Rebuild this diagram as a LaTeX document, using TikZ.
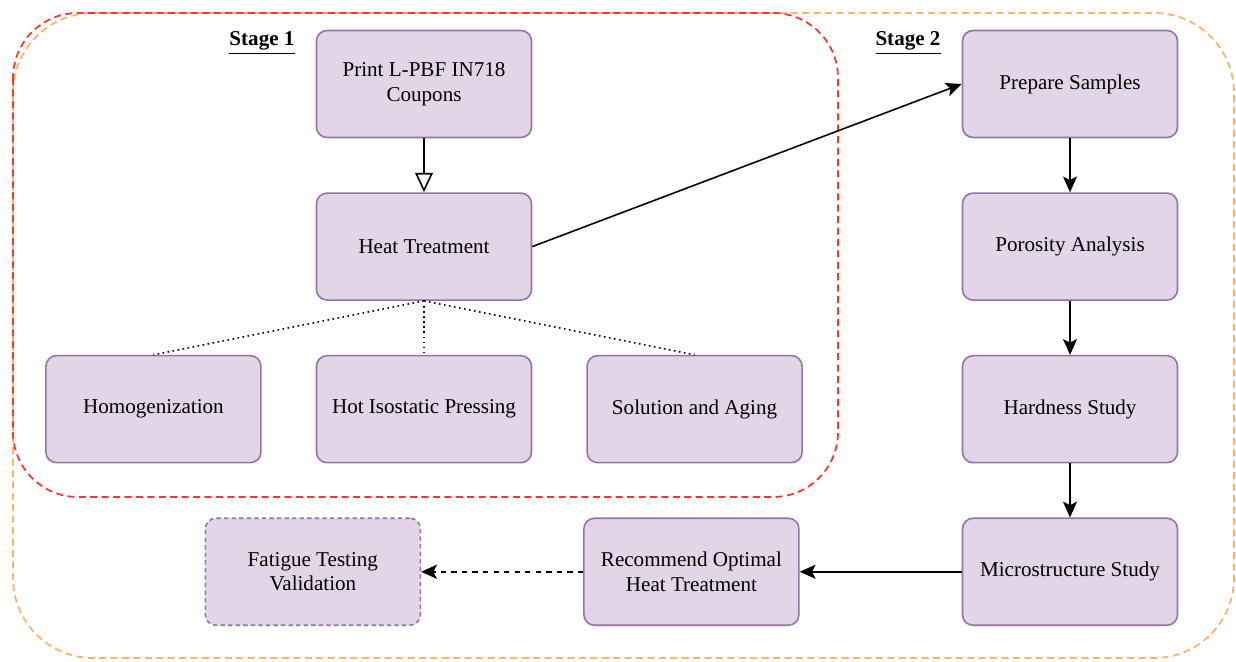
\documentclass[tikz,border=0pt]{standalone}
\usepackage{fontspec}
\setmainfont{Liberation Serif}
\usepackage{xcolor}
\usetikzlibrary{arrows.meta, positioning, shapes}

\definecolor{boxFill}{HTML}{E1D5E7}
\definecolor{boxLine}{HTML}{9673A6}
\definecolor{cadreRouge}{HTML}{FF3333}
\definecolor{cadreOrange}{HTML}{FFB366}

\begin{document}
\begin{tikzpicture}[
			node distance=1.08cm,
			% Styles des boites
			etape/.style={draw=boxLine, fill=boxFill, rounded corners=6pt, line width=0.9pt,
				minimum width=4.3cm, minimum height=2.14cm, align=center, font=\fontsize{12}{14}\selectfont},
			futur/.style={etape, dashed, dash pattern=on 2.5pt off 1.8pt},
			titre/.style={font=\fontsize{12}{14}\selectfont\bfseries},
			cadreA/.style={draw=cadreRouge, dashed, dash pattern=on 4pt off 2.5pt, line width=1pt, rounded corners=1.3cm},
			cadreB/.style={draw=cadreOrange, dashed, dash pattern=on 4pt off 2.5pt, line width=1pt, rounded corners=1.6cm},
			fleche/.style={-{Stealth[length=9pt, width=8pt, inset=2pt]}, line width=0.9pt},
			]

			\useasboundingbox (0,0) rectangle (24.72,-13.22);

			% cadres des deux etapes
			\draw[cadreB] (0.26,-0.26) rectangle (24.68,-13.16);
			\draw[cadreA] (0.26,-0.26) rectangle (16.76,-9.94);

			\node[titre] (stage1) at (5.24,-0.86) {\underline{Stage 1}};
			\node[titre] (stage2) at (18.16,-0.86) {\underline{Stage 2}};

			% Etape 1
			\node[etape] (print) at (8.48,-1.68) {Print L-PBF IN718\\Coupons};
			\node[etape, below=of print] (heat) {Heat Treatment};
			\node[etape, below=of heat] (hip) {Hot Isostatic Pressing};
			\node[etape, left=of hip] (homog) {Homogenization};
			\node[etape, right=of hip] (solution) {Solution and Aging};

			\draw[-{Triangle[open, length=11pt, width=10pt]}, line width=0.9pt] (print) -- (heat);
			\draw[dotted, line width=0.9pt] (heat.south) -- (homog.north);
			\draw[dotted, line width=0.9pt] (heat.south) -- (hip.north);
			\draw[dotted, line width=0.9pt] (heat.south) -- (solution.north);

			% Etape 2
			\node[etape] (prepare) at (21.4,-1.68) {Prepare Samples};
			\node[etape, below=of prepare] (porosity) {Porosity Analysis};
			\node[etape, below=of porosity] (hardness) {Hardness Study};
			\node[etape, below=of hardness] (micro) {Microstructure Study};
			\node[etape, left=3.24cm of micro] (recommend) {Recommend Optimal\\Heat Treatment};
			\node[futur, left=3.24cm of recommend] (fatigue) {Fatigue Testing\\Validation};

			\draw[fleche] (heat.east) -- (prepare.west);
			\draw[fleche] (prepare) -- (porosity);
			\draw[fleche] (porosity) -- (hardness);
			\draw[fleche] (hardness) -- (micro);
			\draw[fleche] (micro) -- (recommend);
			\draw[fleche, dashed] (recommend) -- (fatigue);

		\end{tikzpicture}
\end{document}
